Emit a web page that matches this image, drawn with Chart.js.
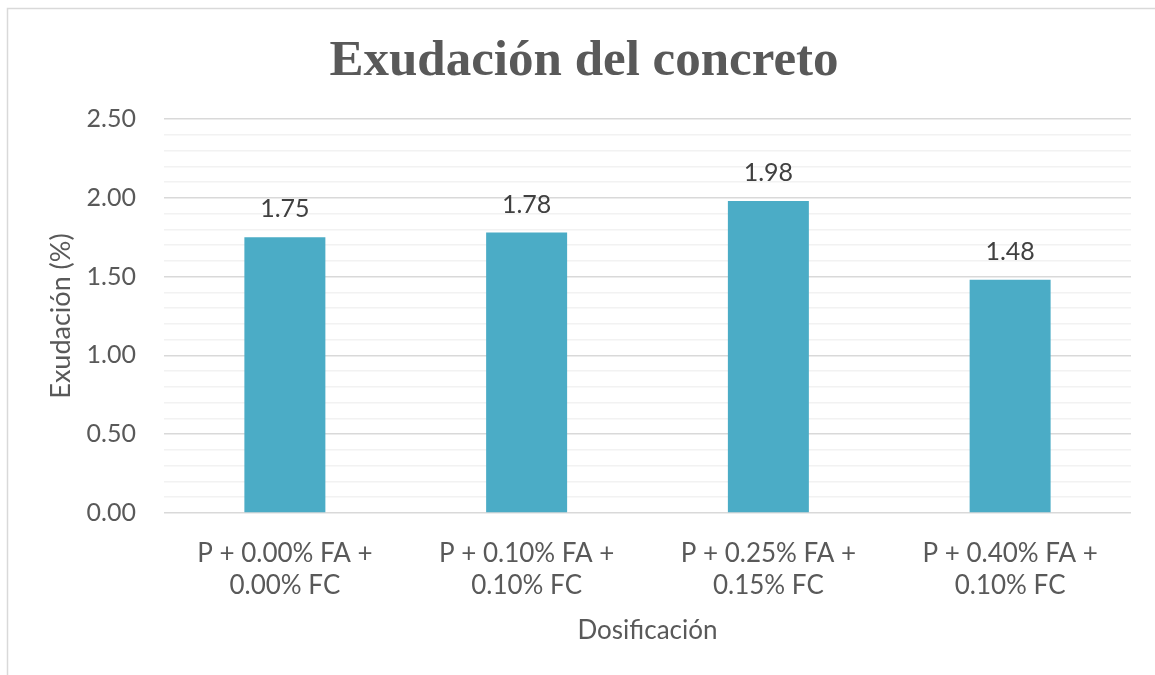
<!DOCTYPE html>
<html>
<head>
<meta charset="utf-8">
<script src="https://cdn.jsdelivr.net/npm/chart.js@4/dist/chart.umd.min.js"></script>
<style>
  html, body { margin: 0; padding: 0; background: #fff; }
  #wrap { width: 1155px; height: 675px; position: relative; }
</style>
</head>
<body>
<div id="wrap"><canvas id="exudacion-chart" width="1155" height="675"></canvas></div>
<script>
const categories = [
  ['P + 0.00% FA +', '0.00% FC'],
  ['P + 0.10% FA +', '0.10% FC'],
  ['P + 0.25% FA +', '0.15% FC'],
  ['P + 0.40% FA +', '0.10% FC']
];
const exudacion = [1.75, 1.78, 1.98, 1.48];
const yTicks = [0, 0.5, 1.0, 1.5, 2.0, 2.5];
const chartTitle = 'Exudación del concreto';

const GREY = '#595959';
const SANS = 'Lato, "Open Sans", sans-serif';

// frame, heading and value labels above each bar
const framePlugin = {
  id: 'frame',
  beforeDraw(chart) {
    const ctx = chart.ctx;
    ctx.save();
    ctx.fillStyle = '#fff';
    ctx.fillRect(0, 0, chart.width, chart.height);
    ctx.strokeStyle = '#d9d9d9';
    ctx.lineWidth = 1.5;
    ctx.strokeRect(7.5, 8.5, chart.width + 20, chart.height + 20);
    ctx.font = 'bold 51px "Liberation Serif", serif';
    ctx.fillStyle = GREY;
    ctx.textAlign = 'center';
    ctx.textBaseline = 'alphabetic';
    ctx.fillText(chartTitle, 584, 75);
    ctx.restore();
  },
  afterDatasetsDraw(chart) {
    const ctx = chart.ctx;
    const meta = chart.getDatasetMeta(0);
    ctx.save();
    ctx.font = '25px ' + SANS;
    ctx.fillStyle = '#404040';
    ctx.textAlign = 'center';
    ctx.textBaseline = 'middle';
    meta.data.forEach((bar, i) => {
      const v = chart.data.datasets[0].data[i];
      ctx.fillText(v.toFixed(2), bar.x, bar.y - 28);
    });
    ctx.restore();
  }
};

new Chart(document.getElementById('exudacion-chart').getContext('2d'), {
  type: 'bar',
  data: {
    labels: categories,
    datasets: [{
      label: 'Exudación',
      data: exudacion,
      backgroundColor: '#4bacc6',
      barPercentage: 1,
      categoryPercentage: 0.335
    }]
  },
  options: {
    responsive: false,
    animation: false,
    layout: { padding: { left: 0, right: 24, top: 119, bottom: 0 } },
    plugins: {
      legend: { display: false },
      tooltip: { enabled: false },
      title: { display: false }
    },
    scales: {
      x: {
        grid: { display: false, drawTicks: false },
        border: { display: false },
        ticks: { color: GREY, font: { family: SANS, size: 26, lineHeight: 1.25 }, padding: 24, maxRotation: 0, autoSkip: false },
        title: { display: true, text: 'Dosificación', color: GREY, font: { family: SANS, size: 26 }, padding: { top: 0, bottom: 29 } },
        afterFit(scale) { scale.height = 162; }
      },
      y: {
        min: 0,
        max: 2.5,
        afterBuildTicks(scale) {
          // major ticks every 0.5 plus minor lines every 0.1
          const t = [];
          for (let i = 0; i <= 25; i++) t.push({ value: i / 10 });
          scale.ticks = t;
        },
        grid: {
          drawTicks: false,
          lineWidth: 1.5,
          color: ctx => (ctx.tick && Math.round(ctx.tick.value * 10) % 5 === 0) ? '#d9d9d9' : '#f2f2f2'
        },
        border: { display: false },
        ticks: {
          color: GREY,
          font: { family: SANS, size: 25 },
          padding: 28,
          autoSkip: false,
          callback: v => yTicks.some(t => Math.abs(t - v) < 1e-6) ? v.toFixed(2) : ''
        },
        title: { display: true, text: 'Exudación (%)', color: GREY, font: { family: SANS, size: 27 }, padding: { top: 45, bottom: 0 } },
        afterFit(scale) { scale.width = 164; }
      }
    }
  },
  plugins: [framePlugin]
});
</script>
</body>
</html>
